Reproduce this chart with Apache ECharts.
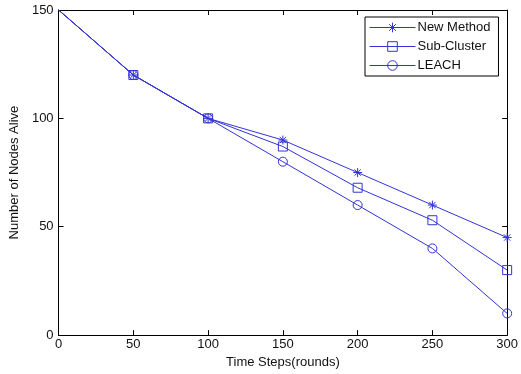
<!DOCTYPE html>
<html>
<head>
<meta charset="utf-8">
<script src="https://cdn.jsdelivr.net/npm/echarts@6/dist/echarts.min.js"></script>
<style>
  html, body { margin: 0; padding: 0; background: #fff; }
  #chart { width: 521px; height: 374px; }
</style>
</head>
<body>
<div id="chart"></div>
<script>
const rounds = [0, 50, 100, 150, 200, 250, 300];
const newMethod = [150, 120, 100, 90, 75, 60, 45];
const subCluster = [150, 120, 100, 87, 68, 53, 30];
const leach = [150, 120, 100, 80, 60, 40, 10];

const blue = '#3333d6';
const font = 'Liberation Sans, Arial, sans-serif';
const star = 'path://M5,0L5,10M0,5L10,5M1.5,1.5L8.5,8.5M8.5,1.5L1.5,8.5';
const square = 'path://M0,0L10,0L10,10L0,10Z';
const circle = 'path://M10,5A5,5,0,1,1,0,5A5,5,0,1,1,10,5Z';

// no marker on the first point, like the original plot
function pts(vals) {
  return vals.map((v, i) => {
    const p = {value: [rounds[i], v]};
    if (i === 0) p.symbol = 'none';
    return p;
  });
}

function line(name, vals, symbol, size) {
  return {
    name,
    type: 'line',
    data: pts(vals),
    symbol,
    symbolSize: size,
    showAllSymbol: true,
    lineStyle: {color: blue, width: 1},
    itemStyle: {color: 'rgba(0,0,0,0)', borderColor: blue, borderWidth: 1},
    emphasis: {disabled: true},
    animation: false,
  };
}

const axisText = {color: '#111', fontSize: 13, fontFamily: font};
const frame = {show: true, onZero: false, lineStyle: {color: '#000', width: 1}};
const tick = {show: true, inside: true, length: 5, lineStyle: {color: '#000'}};

const chart = echarts.init(document.getElementById('chart'));
chart.setOption({
  backgroundColor: '#fff',
  grid: {left: 57, right: 9, top: 10, bottom: 37},
  legend: {
    orient: 'vertical',
    left: 365,
    top: 17,
    padding: [4, 8, 4, 4],
    itemWidth: 46,
    itemHeight: 12,
    itemGap: 6,
    borderColor: '#000',
    borderWidth: 1,
    backgroundColor: '#fff',
    lineStyle: {width: 1, color: blue},
    itemStyle: {borderWidth: 1, borderColor: blue, color: 'rgba(0,0,0,0)'},
    textStyle: {color: '#111', fontSize: 13, fontFamily: font, padding: [0, 0, 0, -3]},
    data: ['New Method', 'Sub-Cluster', 'LEACH'],
  },
  xAxis: [
    {
      type: 'value', min: 0, max: 300, interval: 50,
      name: 'Time Steps(rounds)', nameLocation: 'middle', nameGap: 18,
      nameTextStyle: axisText,
      axisLine: frame, axisTick: tick,
      axisLabel: Object.assign({margin: 3}, axisText),
      splitLine: {show: false},
    },
    {
      type: 'value', min: 0, max: 300, interval: 50, position: 'top',
      axisLine: frame, axisTick: tick, axisLabel: {show: false}, splitLine: {show: false},
    },
  ],
  yAxis: [
    {
      type: 'value', min: 0, max: 150, interval: 50,
      name: 'Number of Nodes Alive', nameLocation: 'middle', nameGap: 34,
      nameTextStyle: axisText,
      axisLine: frame, axisTick: tick,
      axisLabel: Object.assign({margin: 5}, axisText),
      splitLine: {show: false},
    },
    {
      type: 'value', min: 0, max: 150, interval: 50, position: 'right',
      axisLine: frame, axisTick: tick, axisLabel: {show: false}, splitLine: {show: false},
    },
  ],
  series: [
    line('New Method', newMethod, star, 9),
    line('Sub-Cluster', subCluster, square, 9),
    line('LEACH', leach, circle, 9),
  ],
});
</script>
</body>
</html>
